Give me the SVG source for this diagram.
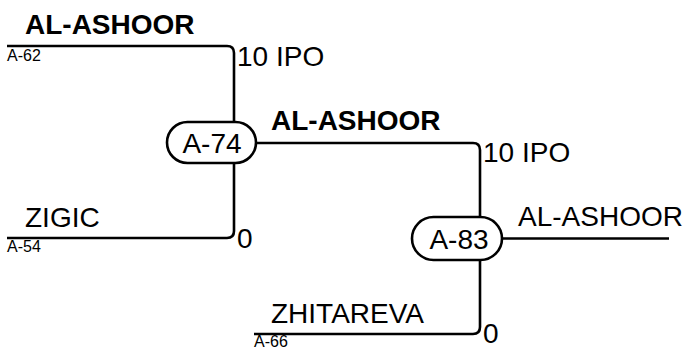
<svg xmlns="http://www.w3.org/2000/svg" width="687" height="353" viewBox="0 0 687 353">
<style>
.t{font-family:"Liberation Sans",Arial,sans-serif;fill:#000}
.b{font-size:28px;font-weight:bold}
.r{font-size:28px}
.s{font-size:16px}
.n{font-size:28px}
.ln{fill:none;stroke:#000;stroke-width:2.6}
.nd{fill:#fff;stroke:#000;stroke-width:2.6}
</style>
<rect width="687" height="353" fill="#fff"/>
<g id="connectors">
<path class="ln" d="M7,46 H227 Q234,46 234,53 V122"/>
<path class="ln" d="M7,238 H227 Q234,238 234,231 V163"/>
<path class="ln" d="M256,143 H473 Q480,143 480,150 V217"/>
<path class="ln" d="M254,334 H473 Q480,334 480,327 V260"/>
<path class="ln" d="M502,238.5 H669"/>
</g>
<g id="labels">
<text class="t b" x="25" y="34">AL-ASHOOR</text>
<text class="t s" x="7" y="61">A-62</text>
<text class="t r" x="237" y="66">10 IPO</text>
<text class="t r" x="25" y="227">ZIGIC</text>
<text class="t s" x="7" y="252">A-54</text>
<text class="t r" x="237" y="248">0</text>
<text class="t b" x="271" y="130">AL-ASHOOR</text>
<text class="t r" x="483" y="162">10 IPO</text>
<text class="t r" x="518" y="226">AL-ASHOOR</text>
<text class="t r" x="271" y="323">ZHITAREVA</text>
<text class="t s" x="254" y="347">A-66</text>
<text class="t r" x="483" y="343">0</text>
</g>
<g id="node-A-74">
<rect class="nd" x="167" y="122" width="89" height="41" rx="20.5"/>
<text class="t n" x="212" y="153" text-anchor="middle">A-74</text>
</g>
<g id="node-A-83">
<rect class="nd" x="412" y="217" width="90" height="43" rx="21.5"/>
<text class="t n" x="459" y="249" text-anchor="middle">A-83</text>
</g>
</svg>
